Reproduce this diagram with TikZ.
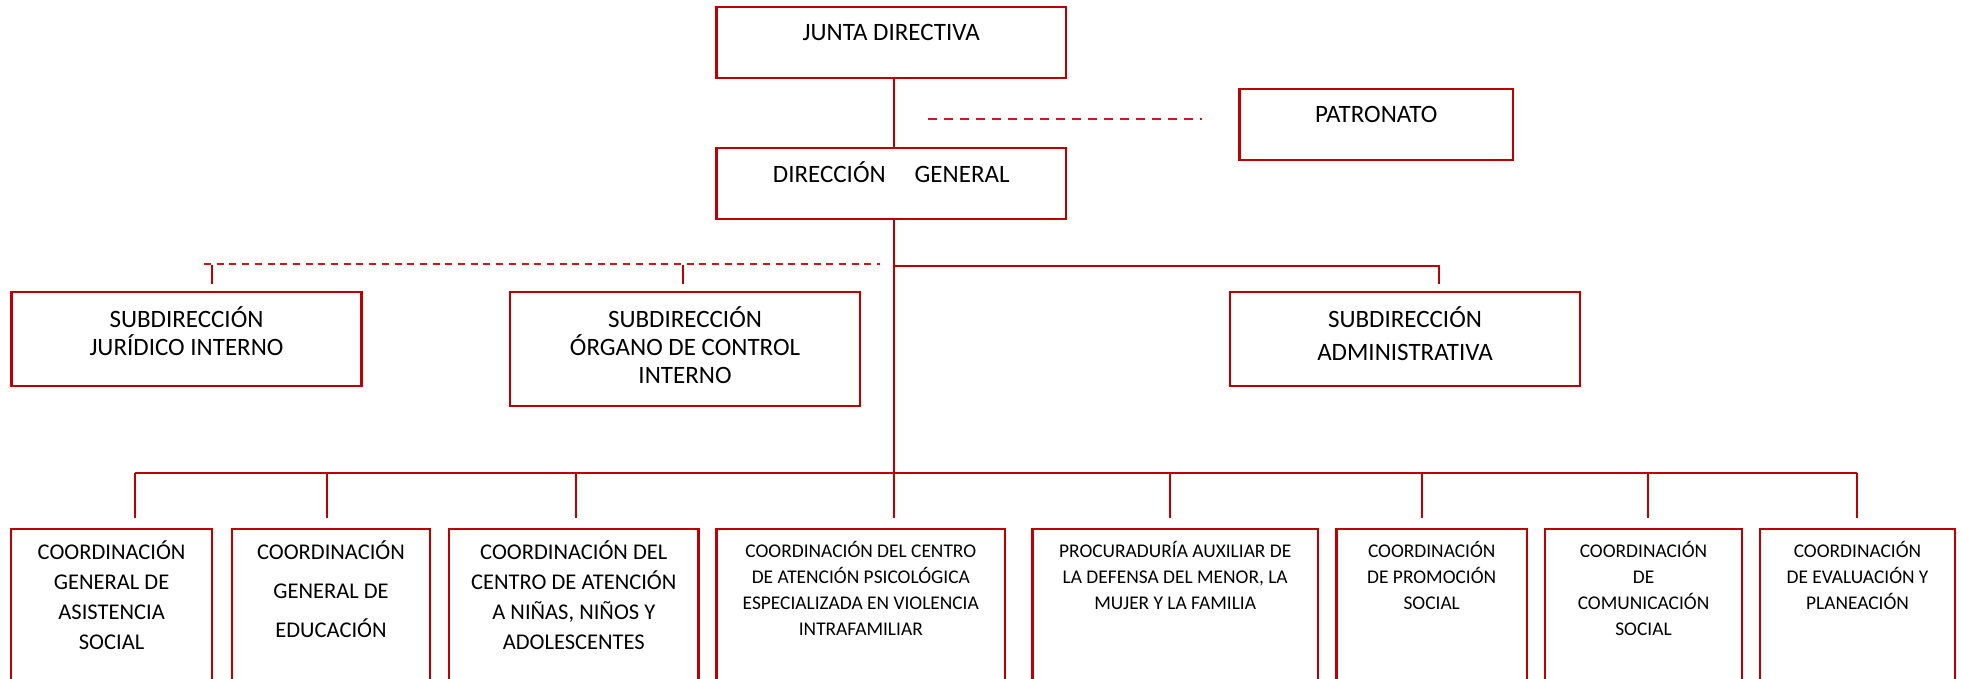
\documentclass[tikz,border=0pt]{standalone}
\usepackage{fontspec}
\setmainfont{Carlito}
\definecolor{ored}{RGB}{192,0,0}
\definecolor{dred}{RGB}{215,20,20}
\newcommand\myStrut{\rule{0pt}{20pt}}
\begin{document}
\begin{tikzpicture}[x=1pt,y=-1pt,
  box/.style={draw=ored, line width=2.3pt, rectangle, inner sep=0pt, fill=white},
  conn/.style={draw=ored, line width=2pt},
  dashA/.style={draw=dred, line width=2pt, dash pattern=on 9pt off 7pt},
  dashB/.style={draw=dred, line width=2pt, dash pattern=on 7pt off 5.7pt},
  txt/.style={anchor=north, inner sep=0pt, align=center, text=black},
  ttop/.style={txt, font=\fontsize{25}{30}\selectfont, yshift=-14.5pt},
  tsub/.style={txt, font=\fontsize{25}{28}\selectfont, yshift=-15.6pt},
  tsubA/.style={txt, font=\fontsize{25}{33}\selectfont, yshift=-15.6pt},
  tbig/.style={txt, font=\fontsize{22.5}{30}\selectfont, yshift=-11.6pt},
  tbigB/.style={txt, font=\fontsize{22.5}{39}\selectfont, yshift=-11.6pt},
  tsmall/.style={txt, font=\fontsize{19.4}{26}\selectfont, yshift=-9.3pt},
  bot/.style={box, minimum height=162pt}
]
\useasboundingbox (0,0) rectangle (1961,678);
\clip (0,0) rectangle (1961,678);

% top level
\node[box, minimum width=349.5pt, minimum height=71pt] (jd) at (891.25,42.75) {};
\node[ttop] (jdt) at (jd.north) {\myStrut JUNTA DIRECTIVA};
\node[box, minimum width=349.5pt, minimum height=71pt] (dg) at (891.25,183.5) {};
\node[ttop] (dgt) at (dg.north) {\myStrut DIRECCIÓN\hspace*{29pt}GENERAL};
\node[box, minimum width=273.5pt, minimum height=71.3pt] (pat) at (1376.25,124.35) {};
\node[ttop] (patt) at (pat.north) {\myStrut PATRONATO};

% subdirecciones
\node[box, minimum width=350pt, minimum height=94pt] (sji) at (186.5,338.7) {};
\node[tsub] (sjit) at (sji.north) {\myStrut SUBDIRECCIÓN\\JURÍDICO INTERNO};
\node[box, minimum width=349.5pt, minimum height=114.3pt] (soci) at (685,348.85) {};
\node[tsub] (socit) at (soci.north) {\myStrut SUBDIRECCIÓN\\ÓRGANO DE CONTROL\\INTERNO};
\node[box, minimum width=350pt, minimum height=94pt] (sa) at (1405,338.7) {};
\node[tsubA] (sat) at (sa.north) {\myStrut SUBDIRECCIÓN\\ADMINISTRATIVA};

% coordinaciones
\node[bot, minimum width=200.8pt, anchor=north] (b1) at (111.6,527.7) {};
\node[tbig] (b1t) at (b1.north) {\myStrut COORDINACIÓN\\GENERAL DE\\ASISTENCIA\\SOCIAL};
\node[bot, minimum width=198.6pt, anchor=north] (b2) at (331,527.7) {};
\node[tbigB] (b2t) at (b2.north) {\myStrut COORDINACIÓN\\GENERAL DE\\EDUCACIÓN};
\node[bot, minimum width=249.6pt, anchor=north] (b3) at (573.8,527.7) {};
\node[tbig] (b3t) at (b3.north) {\myStrut COORDINACIÓN DEL\\CENTRO DE ATENCIÓN\\A NIÑAS, NIÑOS Y\\ADOLESCENTES};
\node[bot, minimum width=288.4pt, anchor=north] (b4) at (860.8,527.7) {};
\node[tsmall] (b4t) at (b4.north) {\myStrut COORDINACIÓN DEL CENTRO\\DE ATENCIÓN PSICOLÓGICA\\ESPECIALIZADA EN VIOLENCIA\\INTRAFAMILIAR};
\node[bot, minimum width=285.6pt, anchor=north] (b5) at (1175.2,527.7) {};
\node[tsmall] (b5t) at (b5.north) {\myStrut PROCURADURÍA AUXILIAR DE\\LA DEFENSA DEL MENOR, LA\\MUJER Y LA FAMILIA};
\node[bot, minimum width=190.6pt, anchor=north] (b6) at (1431.7,527.7) {};
\node[tsmall] (b6t) at (b6.north) {\myStrut COORDINACIÓN\\DE PROMOCIÓN\\SOCIAL};
\node[bot, minimum width=197pt, anchor=north] (b7) at (1643.5,527.7) {};
\node[tsmall] (b7t) at (b7.north) {\myStrut COORDINACIÓN\\DE\\COMUNICACIÓN\\SOCIAL};
\node[bot, minimum width=195pt, anchor=north] (b8) at (1857.5,527.7) {};
\node[tsmall] (b8t) at (b8.north) {\myStrut COORDINACIÓN\\DE EVALUACIÓN Y\\PLANEACIÓN};

% connector coordinates
\coordinate (jdb) at (894,78.3);
\coordinate (dgt0) at (894,148);
\coordinate (dgb) at (894,219);
\coordinate (hub1) at (894,266);
\coordinate (hub2) at (894,473);
\coordinate (pd1) at (928,119);
\coordinate (pd2) at (1202,119);
\coordinate (sd1) at (204,264);
\coordinate (sd2) at (880,264);
\coordinate (saR) at (1439,266);
\coordinate (saD) at (1439,284.3);
\coordinate (t1a) at (212,265);
\coordinate (t1b) at (212,284.3);
\coordinate (t2a) at (683,265);
\coordinate (t2b) at (683,284.3);
\coordinate (barL) at (134.8,473);
\coordinate (barR) at (1857,473);

\draw[conn] (jdb) -- (dgt0);
\draw[dashA] (pd1) -- (pd2);
\draw[conn] (dgb) -- (hub2);
\draw[conn] (hub1) -- (saR) -- (saD);
\draw[dashB] (sd1) -- (sd2);
\draw[conn] (t1a) -- (t1b);
\draw[conn] (t2a) -- (t2b);
\draw[conn] (barL) -- (barR);
\foreach \xx/\nn in {134.8/b1,327.2/b2,576.3/b3,894.4/b4,1169.6/b5,1421.7/b6,1648.3/b7,1857/b8}{
  \draw[conn] (\xx,473) -- (\xx,518.3);
}
\end{tikzpicture}
\end{document}
